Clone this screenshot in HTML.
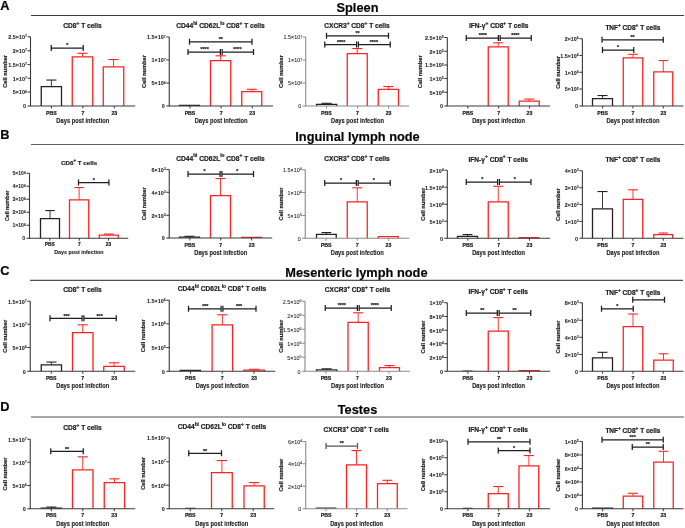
<!DOCTYPE html>
<html><head><meta charset="utf-8"><style>
html,body{margin:0;padding:0;background:#fff;}
body{width:685px;height:528px;overflow:hidden;}
svg{display:block;will-change:transform;font-family:"Liberation Sans",sans-serif;}
text{stroke:#222;stroke-width:0.2px;} text.t{stroke-width:0.06px;} text.d{stroke-width:0.1px;}
</style></head><body>
<svg width="685" height="528" viewBox="0 0 685 528">
<rect width="685" height="528" fill="#fff"/>
<g>
<text x="0.3" y="9.5" font-size="12.8" font-weight="bold" fill="#000">A</text>
<text x="357.5" y="12.3" font-size="12.8" font-weight="bold" fill="#000" text-anchor="middle">Spleen</text>
<line x1="31" y1="15.5" x2="684" y2="15.5" stroke="#3c3c3c" stroke-width="1.0"/>
<text x="0.3" y="138.6" font-size="12.8" font-weight="bold" fill="#000">B</text>
<text x="357.5" y="141.0" font-size="12.8" font-weight="bold" fill="#000" text-anchor="middle">Inguinal lymph node</text>
<line x1="31" y1="144.5" x2="684" y2="144.5" stroke="#5e5e5e" stroke-width="1.15"/>
<text x="0.3" y="274.5" font-size="12.8" font-weight="bold" fill="#000">C</text>
<text x="356.4" y="277.0" font-size="12.8" font-weight="bold" fill="#000" text-anchor="middle">Mesenteric lymph node</text>
<line x1="30" y1="280.4" x2="683" y2="280.4" stroke="#505050" stroke-width="1.1"/>
<text x="0.3" y="411.1" font-size="12.8" font-weight="bold" fill="#000">D</text>
<text x="357.5" y="414.0" font-size="12.8" font-weight="bold" fill="#000" text-anchor="middle">Testes</text>
<line x1="31" y1="417.0" x2="684" y2="417.0" stroke="#a8a8a8" stroke-width="1.9"/>
<g><line x1="51.375" y1="86.55" x2="51.375" y2="80.05" stroke="#222" stroke-width="0.9"/><line x1="46.3125" y1="80.05" x2="56.4375" y2="80.05" stroke="#222" stroke-width="1.1"/><path d="M41.25 106V86.55H61.5V106" fill="none" stroke="#222" stroke-width="1.3"/><line x1="82.5" y1="56.8" x2="82.5" y2="53.3" stroke="#f22" stroke-width="0.9"/><line x1="77.375" y1="53.3" x2="87.625" y2="53.3" stroke="#f22" stroke-width="1.1"/><path d="M72.25 106V56.8H92.75V106" fill="none" stroke="#f22" stroke-width="1.3"/><line x1="113.5" y1="66.8" x2="113.5" y2="59.55" stroke="#f22" stroke-width="0.9"/><line x1="108.375" y1="59.55" x2="118.625" y2="59.55" stroke="#f22" stroke-width="1.1"/><path d="M103.25 106V66.8H123.75V106" fill="none" stroke="#f22" stroke-width="1.3"/><path d="M30.5 36.75V106H135.2" fill="none" stroke="#3a3a3a" stroke-width="1.1"/><line x1="27.5" y1="36.75" x2="30.5" y2="36.75" stroke="#3a3a3a" stroke-width="1.05"/><text class="t" x="26.9" y="39.15" font-size="5.40" font-weight="bold" text-anchor="end" fill="#1a1a1a">2.5×10<tspan dy="-1.9" font-size="3.6">7</tspan></text><line x1="27.5" y1="50.75" x2="30.5" y2="50.75" stroke="#3a3a3a" stroke-width="1.05"/><text class="t" x="26.9" y="53.15" font-size="5.40" font-weight="bold" text-anchor="end" fill="#1a1a1a">2×10<tspan dy="-1.9" font-size="3.6">7</tspan></text><line x1="27.5" y1="64.5" x2="30.5" y2="64.5" stroke="#3a3a3a" stroke-width="1.05"/><text class="t" x="26.9" y="66.9" font-size="5.40" font-weight="bold" text-anchor="end" fill="#1a1a1a">1.5×10<tspan dy="-1.9" font-size="3.6">7</tspan></text><line x1="27.5" y1="78.25" x2="30.5" y2="78.25" stroke="#3a3a3a" stroke-width="1.05"/><text class="t" x="26.9" y="80.65" font-size="5.40" font-weight="bold" text-anchor="end" fill="#1a1a1a">1×10<tspan dy="-1.9" font-size="3.6">7</tspan></text><line x1="27.5" y1="92" x2="30.5" y2="92" stroke="#3a3a3a" stroke-width="1.05"/><text class="t" x="26.9" y="94.4" font-size="5.40" font-weight="bold" text-anchor="end" fill="#1a1a1a">5×10<tspan dy="-1.9" font-size="3.6">6</tspan></text><line x1="27.5" y1="106" x2="30.5" y2="106" stroke="#3a3a3a" stroke-width="1.05"/><text class="t" x="26.1" y="108.4" font-size="5.40" font-weight="bold" text-anchor="end" fill="#1a1a1a">0</text><line x1="51.44" y1="106" x2="51.44" y2="108.5" stroke="#3a3a3a" stroke-width="1"/><text transform="translate(51.44 114.6) scale(1 1.12)" font-size="5.20" font-weight="bold" text-anchor="middle" fill="#1a1a1a">PBS</text><line x1="82.85" y1="106" x2="82.85" y2="108.5" stroke="#3a3a3a" stroke-width="1"/><text transform="translate(82.85 114.6) scale(1 1.12)" font-size="5.20" font-weight="bold" text-anchor="middle" fill="#1a1a1a">7</text><line x1="114.25999999999999" y1="106" x2="114.25999999999999" y2="108.5" stroke="#3a3a3a" stroke-width="1"/><text transform="translate(114.25999999999999 114.6) scale(1 1.12)" font-size="5.20" font-weight="bold" text-anchor="middle" fill="#1a1a1a">23</text><text class="d" transform="translate(82.85 123.0) scale(1 1.12)" font-size="5.75" font-weight="bold" text-anchor="middle" fill="#1a1a1a">Days post infection</text><text transform="translate(7.200000000000001 71.375) rotate(-90)" x="0" y="0" font-size="5.70" font-weight="bold" text-anchor="middle" fill="#1a1a1a">Cell number</text><path d="M51.25 44.9V51.1M51.25 48H83.25M83.25 44.9V51.1" fill="none" stroke="#1e1e1e" stroke-width="1.25"/><text x="67.25" y="47.3" font-size="5.3" font-weight="bold" text-anchor="middle" fill="#1a1a1a">*</text><text x="82.5" y="28.2" font-size="6.6" font-weight="bold" text-anchor="middle" fill="#1a1a1a">CD8<tspan dy="-3.20" font-size="4.80">+</tspan><tspan dy="3.20"> </tspan>T cells</text></g>
<g><path d="M179.5 106V105.4H199.5V106" fill="none" stroke="#222" stroke-width="1.3"/><line x1="220.625" y1="60.55" x2="220.625" y2="55.8" stroke="#f22" stroke-width="0.9"/><line x1="215.5625" y1="55.8" x2="225.6875" y2="55.8" stroke="#f22" stroke-width="1.1"/><path d="M210.5 106V60.55H230.75V106" fill="none" stroke="#f22" stroke-width="1.3"/><line x1="251.75" y1="91.55" x2="251.75" y2="89.3" stroke="#f22" stroke-width="0.9"/><line x1="246.75" y1="89.3" x2="256.75" y2="89.3" stroke="#f22" stroke-width="1.1"/><path d="M241.75 106V91.55H261.75V106" fill="none" stroke="#f22" stroke-width="1.3"/><path d="M169.25 37V106H273" fill="none" stroke="#3a3a3a" stroke-width="1.1"/><line x1="166.25" y1="37" x2="169.25" y2="37" stroke="#3a3a3a" stroke-width="1.05"/><text class="t" x="165.65" y="39.4" font-size="5.40" font-weight="bold" text-anchor="end" fill="#1a1a1a">1.5×10<tspan dy="-1.9" font-size="3.6">7</tspan></text><line x1="166.25" y1="60" x2="169.25" y2="60" stroke="#3a3a3a" stroke-width="1.05"/><text class="t" x="165.65" y="62.4" font-size="5.40" font-weight="bold" text-anchor="end" fill="#1a1a1a">1×10<tspan dy="-1.9" font-size="3.6">7</tspan></text><line x1="166.25" y1="83" x2="169.25" y2="83" stroke="#3a3a3a" stroke-width="1.05"/><text class="t" x="165.65" y="85.4" font-size="5.40" font-weight="bold" text-anchor="end" fill="#1a1a1a">5×10<tspan dy="-1.9" font-size="3.6">6</tspan></text><line x1="166.25" y1="106" x2="169.25" y2="106" stroke="#3a3a3a" stroke-width="1.05"/><text class="t" x="164.85" y="108.4" font-size="5.40" font-weight="bold" text-anchor="end" fill="#1a1a1a">0</text><line x1="190.0" y1="106" x2="190.0" y2="108.5" stroke="#3a3a3a" stroke-width="1"/><text transform="translate(190.0 114.6) scale(1 1.12)" font-size="5.20" font-weight="bold" text-anchor="middle" fill="#1a1a1a">PBS</text><line x1="221.125" y1="106" x2="221.125" y2="108.5" stroke="#3a3a3a" stroke-width="1"/><text transform="translate(221.125 114.6) scale(1 1.12)" font-size="5.20" font-weight="bold" text-anchor="middle" fill="#1a1a1a">7</text><line x1="252.25" y1="106" x2="252.25" y2="108.5" stroke="#3a3a3a" stroke-width="1"/><text transform="translate(252.25 114.6) scale(1 1.12)" font-size="5.20" font-weight="bold" text-anchor="middle" fill="#1a1a1a">23</text><text class="d" transform="translate(221.125 123.0) scale(1 1.12)" font-size="5.75" font-weight="bold" text-anchor="middle" fill="#1a1a1a">Days post infection</text><text transform="translate(145.9 71.5) rotate(-90)" x="0" y="0" font-size="5.70" font-weight="bold" text-anchor="middle" fill="#1a1a1a">Cell number</text><path d="M189.5 38.65V44.85M189.5 41.75H252M252 38.65V44.85" fill="none" stroke="#1e1e1e" stroke-width="1.25"/><text x="220.75" y="41.05" font-size="5.3" font-weight="bold" text-anchor="middle" fill="#1a1a1a">**</text><path d="M188 48.9V55.1M188 52H220.35M220.35 48.9V55.1" fill="none" stroke="#1e1e1e" stroke-width="1.25"/><text x="204.625" y="51.3" font-size="5.3" font-weight="bold" text-anchor="middle" fill="#1a1a1a">****</text><path d="M222.15 48.9V55.1M222.15 52H253.5M253.5 48.9V55.1" fill="none" stroke="#1e1e1e" stroke-width="1.25"/><text x="237.375" y="51.3" font-size="5.3" font-weight="bold" text-anchor="middle" fill="#1a1a1a">****</text><text x="220.5" y="28.2" font-size="6.6" font-weight="bold" text-anchor="middle" fill="#1a1a1a">CD44<tspan dy="-3.20" font-size="4.80">hi</tspan><tspan dy="3.20"> </tspan>CD62L<tspan dy="-3.20" font-size="4.80">lo</tspan><tspan dy="3.20"> </tspan>CD8<tspan dy="-3.20" font-size="4.80">+</tspan><tspan dy="3.20"> </tspan>T cells</text></g>
<g><line x1="326.625" y1="104.3" x2="326.625" y2="103.3" stroke="#222" stroke-width="0.9"/><line x1="321.5625" y1="103.3" x2="331.6875" y2="103.3" stroke="#222" stroke-width="1.1"/><path d="M316.5 106V104.3H336.75V106" fill="none" stroke="#222" stroke-width="1.3"/><line x1="357.25" y1="53.55" x2="357.25" y2="48.55" stroke="#f22" stroke-width="0.9"/><line x1="352.25" y1="48.55" x2="362.25" y2="48.55" stroke="#f22" stroke-width="1.1"/><path d="M347.25 106V53.55H367.25V106" fill="none" stroke="#f22" stroke-width="1.3"/><line x1="388.375" y1="89.3" x2="388.375" y2="86.55" stroke="#f22" stroke-width="0.9"/><line x1="383.3125" y1="86.55" x2="393.4375" y2="86.55" stroke="#f22" stroke-width="1.1"/><path d="M378.25 106V89.3H398.5V106" fill="none" stroke="#f22" stroke-width="1.3"/><path d="M305.75 37V106H409.2" fill="none" stroke="#8a8a8a" stroke-width="1.1"/><line x1="302.75" y1="37" x2="305.75" y2="37" stroke="#8a8a8a" stroke-width="1.05"/><text class="t" x="302.15" y="39.4" font-size="5.40" font-weight="normal" text-anchor="end" fill="#1a1a1a">1.5×10<tspan dy="-1.9" font-size="3.6">7</tspan></text><line x1="302.75" y1="60" x2="305.75" y2="60" stroke="#8a8a8a" stroke-width="1.05"/><text class="t" x="302.15" y="62.4" font-size="5.40" font-weight="normal" text-anchor="end" fill="#1a1a1a">1×10<tspan dy="-1.9" font-size="3.6">7</tspan></text><line x1="302.75" y1="83" x2="305.75" y2="83" stroke="#8a8a8a" stroke-width="1.05"/><text class="t" x="302.15" y="85.4" font-size="5.40" font-weight="normal" text-anchor="end" fill="#1a1a1a">5×10<tspan dy="-1.9" font-size="3.6">6</tspan></text><line x1="302.75" y1="106" x2="305.75" y2="106" stroke="#8a8a8a" stroke-width="1.05"/><text class="t" x="301.35" y="108.4" font-size="5.40" font-weight="normal" text-anchor="end" fill="#1a1a1a">0</text><line x1="326.44" y1="106" x2="326.44" y2="108.5" stroke="#8a8a8a" stroke-width="1"/><text transform="translate(326.44 114.6) scale(1 1.12)" font-size="5.20" font-weight="bold" text-anchor="middle" fill="#1a1a1a">PBS</text><line x1="357.475" y1="106" x2="357.475" y2="108.5" stroke="#8a8a8a" stroke-width="1"/><text transform="translate(357.475 114.6) scale(1 1.12)" font-size="5.20" font-weight="bold" text-anchor="middle" fill="#1a1a1a">7</text><line x1="388.51" y1="106" x2="388.51" y2="108.5" stroke="#8a8a8a" stroke-width="1"/><text transform="translate(388.51 114.6) scale(1 1.12)" font-size="5.20" font-weight="bold" text-anchor="middle" fill="#1a1a1a">23</text><text class="d" transform="translate(357.475 123.0) scale(1 1.12)" font-size="5.75" font-weight="bold" text-anchor="middle" fill="#1a1a1a">Days post infection</text><text transform="translate(282.9 71.5) rotate(-90)" x="0" y="0" font-size="5.70" font-weight="bold" text-anchor="middle" fill="#1a1a1a">Cell number</text><path d="M326.5 32.65V38.85M326.5 35.75H388.5M388.5 32.65V38.85" fill="none" stroke="#1e1e1e" stroke-width="1.25"/><text x="357.5" y="35.05" font-size="5.3" font-weight="bold" text-anchor="middle" fill="#1a1a1a">**</text><path d="M324.75 41.4V47.6M324.75 44.5H356.6M356.6 41.4V47.6" fill="none" stroke="#1e1e1e" stroke-width="1.25"/><text x="341.125" y="43.8" font-size="5.3" font-weight="bold" text-anchor="middle" fill="#1a1a1a">****</text><path d="M358.4 41.4V47.6M358.4 44.5H390.25M390.25 41.4V47.6" fill="none" stroke="#1e1e1e" stroke-width="1.25"/><text x="373.875" y="43.8" font-size="5.3" font-weight="bold" text-anchor="middle" fill="#1a1a1a">****</text><text x="357" y="28.2" font-size="6.6" font-weight="bold" text-anchor="middle" fill="#1a1a1a">CXCR3<tspan dy="-3.20" font-size="4.80">+</tspan><tspan dy="3.20"> </tspan>CD8<tspan dy="-3.20" font-size="4.80">+</tspan><tspan dy="3.20"> </tspan>T cells</text></g>
<g><line x1="498.25" y1="46.8" x2="498.25" y2="42.8" stroke="#f22" stroke-width="0.9"/><line x1="493.25" y1="42.8" x2="503.25" y2="42.8" stroke="#f22" stroke-width="1.1"/><path d="M488.25 106V46.8H508.25V106" fill="none" stroke="#f22" stroke-width="1.3"/><line x1="529.25" y1="101.05" x2="529.25" y2="99.05" stroke="#f22" stroke-width="0.9"/><line x1="524.25" y1="99.05" x2="534.25" y2="99.05" stroke="#f22" stroke-width="1.1"/><path d="M519.25 106V101.05H539.25V106" fill="none" stroke="#f22" stroke-width="1.3"/><path d="M447.3 37.5V106H550" fill="none" stroke="#3a3a3a" stroke-width="1.1"/><line x1="444.3" y1="37.5" x2="447.3" y2="37.5" stroke="#3a3a3a" stroke-width="1.05"/><text class="t" x="443.7" y="39.9" font-size="5.40" font-weight="bold" text-anchor="end" fill="#1a1a1a">2.5×10<tspan dy="-1.9" font-size="3.6">5</tspan></text><line x1="444.3" y1="51.25" x2="447.3" y2="51.25" stroke="#3a3a3a" stroke-width="1.05"/><text class="t" x="443.7" y="53.65" font-size="5.40" font-weight="bold" text-anchor="end" fill="#1a1a1a">2×10<tspan dy="-1.9" font-size="3.6">5</tspan></text><line x1="444.3" y1="65" x2="447.3" y2="65" stroke="#3a3a3a" stroke-width="1.05"/><text class="t" x="443.7" y="67.4" font-size="5.40" font-weight="bold" text-anchor="end" fill="#1a1a1a">1.5×10<tspan dy="-1.9" font-size="3.6">5</tspan></text><line x1="444.3" y1="78.5" x2="447.3" y2="78.5" stroke="#3a3a3a" stroke-width="1.05"/><text class="t" x="443.7" y="80.9" font-size="5.40" font-weight="bold" text-anchor="end" fill="#1a1a1a">1×10<tspan dy="-1.9" font-size="3.6">5</tspan></text><line x1="444.3" y1="92.25" x2="447.3" y2="92.25" stroke="#3a3a3a" stroke-width="1.05"/><text class="t" x="443.7" y="94.65" font-size="5.40" font-weight="bold" text-anchor="end" fill="#1a1a1a">5×10<tspan dy="-1.9" font-size="3.6">4</tspan></text><line x1="444.3" y1="106" x2="447.3" y2="106" stroke="#3a3a3a" stroke-width="1.05"/><text class="t" x="442.90000000000003" y="108.4" font-size="5.40" font-weight="bold" text-anchor="end" fill="#1a1a1a">0</text><line x1="467.84000000000003" y1="106" x2="467.84000000000003" y2="108.5" stroke="#3a3a3a" stroke-width="1"/><text transform="translate(467.84000000000003 114.6) scale(1 1.12)" font-size="5.20" font-weight="bold" text-anchor="middle" fill="#1a1a1a">PBS</text><line x1="498.65" y1="106" x2="498.65" y2="108.5" stroke="#3a3a3a" stroke-width="1"/><text transform="translate(498.65 114.6) scale(1 1.12)" font-size="5.20" font-weight="bold" text-anchor="middle" fill="#1a1a1a">7</text><line x1="529.46" y1="106" x2="529.46" y2="108.5" stroke="#3a3a3a" stroke-width="1"/><text transform="translate(529.46 114.6) scale(1 1.12)" font-size="5.20" font-weight="bold" text-anchor="middle" fill="#1a1a1a">23</text><text class="d" transform="translate(498.65 123.0) scale(1 1.12)" font-size="5.75" font-weight="bold" text-anchor="middle" fill="#1a1a1a">Days post infection</text><text transform="translate(422.15 71.75) rotate(-90)" x="0" y="0" font-size="5.70" font-weight="bold" text-anchor="middle" fill="#1a1a1a">Cell number</text><path d="M466.25 34.9V41.1M466.25 38H498.35M498.35 34.9V41.1" fill="none" stroke="#1e1e1e" stroke-width="1.25"/><text x="482.75" y="37.3" font-size="5.3" font-weight="bold" text-anchor="middle" fill="#1a1a1a">****</text><path d="M500.15 34.9V41.1M500.15 38H531.25M531.25 34.9V41.1" fill="none" stroke="#1e1e1e" stroke-width="1.25"/><text x="515.25" y="37.3" font-size="5.3" font-weight="bold" text-anchor="middle" fill="#1a1a1a">****</text><text x="498.75" y="28.2" font-size="6.6" font-weight="bold" text-anchor="middle" fill="#1a1a1a">IFN-γ<tspan dy="-3.20" font-size="4.80">+</tspan><tspan dy="3.20"> </tspan>CD8<tspan dy="-3.20" font-size="4.80">+</tspan><tspan dy="3.20"> </tspan>T cells</text></g>
<g><line x1="602.5" y1="98.7" x2="602.5" y2="95.55" stroke="#222" stroke-width="0.9"/><line x1="597.5" y1="95.55" x2="607.5" y2="95.55" stroke="#222" stroke-width="1.1"/><path d="M592.5 106V98.7H612.5V106" fill="none" stroke="#222" stroke-width="1.3"/><line x1="633.0" y1="57.8" x2="633.0" y2="54.3" stroke="#f22" stroke-width="0.9"/><line x1="628.125" y1="54.3" x2="637.875" y2="54.3" stroke="#f22" stroke-width="1.1"/><path d="M623.25 106V57.8H642.75V106" fill="none" stroke="#f22" stroke-width="1.3"/><line x1="663.25" y1="71.8" x2="663.25" y2="60.55" stroke="#f22" stroke-width="0.9"/><line x1="658.5" y1="60.55" x2="668.0" y2="60.55" stroke="#f22" stroke-width="1.1"/><path d="M653.75 106V71.8H672.75V106" fill="none" stroke="#f22" stroke-width="1.3"/><path d="M582.4 38.75V106H683.5" fill="none" stroke="#3a3a3a" stroke-width="1.1"/><line x1="579.4" y1="38.75" x2="582.4" y2="38.75" stroke="#3a3a3a" stroke-width="1.05"/><text class="t" x="578.8" y="41.15" font-size="5.40" font-weight="bold" text-anchor="end" fill="#1a1a1a">2×10<tspan dy="-1.9" font-size="3.6">6</tspan></text><line x1="579.4" y1="55.5" x2="582.4" y2="55.5" stroke="#3a3a3a" stroke-width="1.05"/><text class="t" x="578.8" y="57.9" font-size="5.40" font-weight="bold" text-anchor="end" fill="#1a1a1a">1.5×10<tspan dy="-1.9" font-size="3.6">6</tspan></text><line x1="579.4" y1="72.25" x2="582.4" y2="72.25" stroke="#3a3a3a" stroke-width="1.05"/><text class="t" x="578.8" y="74.65" font-size="5.40" font-weight="bold" text-anchor="end" fill="#1a1a1a">1×10<tspan dy="-1.9" font-size="3.6">6</tspan></text><line x1="579.4" y1="89" x2="582.4" y2="89" stroke="#3a3a3a" stroke-width="1.05"/><text class="t" x="578.8" y="91.4" font-size="5.40" font-weight="bold" text-anchor="end" fill="#1a1a1a">5×10<tspan dy="-1.9" font-size="3.6">5</tspan></text><line x1="579.4" y1="106" x2="582.4" y2="106" stroke="#3a3a3a" stroke-width="1.05"/><text class="t" x="578.0" y="108.4" font-size="5.40" font-weight="bold" text-anchor="end" fill="#1a1a1a">0</text><line x1="602.62" y1="106" x2="602.62" y2="108.5" stroke="#3a3a3a" stroke-width="1"/><text transform="translate(602.62 114.6) scale(1 1.12)" font-size="5.20" font-weight="bold" text-anchor="middle" fill="#1a1a1a">PBS</text><line x1="632.95" y1="106" x2="632.95" y2="108.5" stroke="#3a3a3a" stroke-width="1"/><text transform="translate(632.95 114.6) scale(1 1.12)" font-size="5.20" font-weight="bold" text-anchor="middle" fill="#1a1a1a">7</text><line x1="663.28" y1="106" x2="663.28" y2="108.5" stroke="#3a3a3a" stroke-width="1"/><text transform="translate(663.28 114.6) scale(1 1.12)" font-size="5.20" font-weight="bold" text-anchor="middle" fill="#1a1a1a">23</text><text class="d" transform="translate(632.95 123.0) scale(1 1.12)" font-size="5.75" font-weight="bold" text-anchor="middle" fill="#1a1a1a">Days post infection</text><text transform="translate(560.15 72.375) rotate(-90)" x="0" y="0" font-size="5.70" font-weight="bold" text-anchor="middle" fill="#1a1a1a">Cell number</text><path d="M602 36.65V42.85M602 39.75H663.25M663.25 36.65V42.85" fill="none" stroke="#1e1e1e" stroke-width="1.25"/><text x="632.625" y="39.05" font-size="5.3" font-weight="bold" text-anchor="middle" fill="#1a1a1a">**</text><path d="M602.5 46.9V53.1M602.5 50H633.75M633.75 46.9V53.1" fill="none" stroke="#1e1e1e" stroke-width="1.25"/><text x="618.125" y="49.3" font-size="5.3" font-weight="bold" text-anchor="middle" fill="#1a1a1a">*</text><text x="632.9" y="29.8" font-size="6.5" font-weight="bold" text-anchor="middle" fill="#1a1a1a">TNF<tspan dy="-3.15" font-size="4.73">+</tspan><tspan dy="3.15"> </tspan>CD8<tspan dy="-3.15" font-size="4.73">+</tspan><tspan dy="3.15"> </tspan>T cells</text></g>
<g><line x1="50.0" y1="218.55" x2="50.0" y2="210.55" stroke="#222" stroke-width="0.9"/><line x1="45.25" y1="210.55" x2="54.75" y2="210.55" stroke="#222" stroke-width="1.1"/><path d="M40.5 238.25V218.55H59.5V238.25" fill="none" stroke="#222" stroke-width="1.3"/><line x1="79.125" y1="199.8" x2="79.125" y2="187.55" stroke="#f22" stroke-width="0.9"/><line x1="74.3125" y1="187.55" x2="83.9375" y2="187.55" stroke="#f22" stroke-width="1.1"/><path d="M69.5 238.25V199.8H88.75V238.25" fill="none" stroke="#f22" stroke-width="1.3"/><line x1="108.75" y1="235.05" x2="108.75" y2="234.05" stroke="#f22" stroke-width="0.9"/><line x1="104.0" y1="234.05" x2="113.5" y2="234.05" stroke="#f22" stroke-width="1.1"/><path d="M99.25 238.25V235.05H118.25V238.25" fill="none" stroke="#f22" stroke-width="1.3"/><path d="M29.5 173.25V238.25H128.25" fill="none" stroke="#3a3a3a" stroke-width="1.1"/><line x1="26.5" y1="173.25" x2="29.5" y2="173.25" stroke="#3a3a3a" stroke-width="1.05"/><text class="t" x="25.9" y="175.482" font-size="5.02" font-weight="bold" text-anchor="end" fill="#1a1a1a">5×10<tspan dy="-1.9" font-size="3.6">6</tspan></text><line x1="26.5" y1="186.25" x2="29.5" y2="186.25" stroke="#3a3a3a" stroke-width="1.05"/><text class="t" x="25.9" y="188.482" font-size="5.02" font-weight="bold" text-anchor="end" fill="#1a1a1a">4×10<tspan dy="-1.9" font-size="3.6">6</tspan></text><line x1="26.5" y1="199.25" x2="29.5" y2="199.25" stroke="#3a3a3a" stroke-width="1.05"/><text class="t" x="25.9" y="201.482" font-size="5.02" font-weight="bold" text-anchor="end" fill="#1a1a1a">3×10<tspan dy="-1.9" font-size="3.6">6</tspan></text><line x1="26.5" y1="212.25" x2="29.5" y2="212.25" stroke="#3a3a3a" stroke-width="1.05"/><text class="t" x="25.9" y="214.482" font-size="5.02" font-weight="bold" text-anchor="end" fill="#1a1a1a">2×10<tspan dy="-1.9" font-size="3.6">6</tspan></text><line x1="26.5" y1="225.25" x2="29.5" y2="225.25" stroke="#3a3a3a" stroke-width="1.05"/><text class="t" x="25.9" y="227.482" font-size="5.02" font-weight="bold" text-anchor="end" fill="#1a1a1a">1×10<tspan dy="-1.9" font-size="3.6">6</tspan></text><line x1="26.5" y1="238.25" x2="29.5" y2="238.25" stroke="#3a3a3a" stroke-width="1.05"/><text class="t" x="25.1" y="240.482" font-size="5.02" font-weight="bold" text-anchor="end" fill="#1a1a1a">0</text><line x1="49.8" y1="238.25" x2="49.8" y2="240.75" stroke="#3a3a3a" stroke-width="1"/><text transform="translate(49.8 246.25) scale(1 1.12)" font-size="4.84" font-weight="bold" text-anchor="middle" fill="#1a1a1a">PBS</text><line x1="79.4" y1="238.25" x2="79.4" y2="240.75" stroke="#3a3a3a" stroke-width="1"/><text transform="translate(79.4 246.25) scale(1 1.12)" font-size="4.84" font-weight="bold" text-anchor="middle" fill="#1a1a1a">7</text><line x1="108.5" y1="238.25" x2="108.5" y2="240.75" stroke="#3a3a3a" stroke-width="1"/><text transform="translate(108.5 246.25) scale(1 1.12)" font-size="4.84" font-weight="bold" text-anchor="middle" fill="#1a1a1a">23</text><text class="d" transform="translate(78.9 253.65) scale(1 1.12)" font-size="5.35" font-weight="bold" text-anchor="middle" fill="#1a1a1a">Days post infection</text><text transform="translate(8.700000000000001 205.75) rotate(-90)" x="0" y="0" font-size="5.30" font-weight="bold" text-anchor="middle" fill="#1a1a1a">Cell number</text><path d="M78.5 179.4V185.6M78.5 182.5H108.9M108.9 179.4V185.6" fill="none" stroke="#1e1e1e" stroke-width="1.25"/><text x="93.7" y="181.8" font-size="5.3" font-weight="bold" text-anchor="middle" fill="#1a1a1a">*</text><text x="79.1" y="164.6" font-size="6.2" font-weight="bold" text-anchor="middle" fill="#1a1a1a">CD8<tspan dy="-3.01" font-size="4.51">+</tspan><tspan dy="3.01"> </tspan>T cells</text></g>
<g><line x1="189.5" y1="237.05" x2="189.5" y2="236.3" stroke="#222" stroke-width="0.9"/><line x1="184.5" y1="236.3" x2="194.5" y2="236.3" stroke="#222" stroke-width="1.1"/><path d="M179.5 238V237.05H199.5V238" fill="none" stroke="#222" stroke-width="1.3"/><line x1="220.5" y1="195.55" x2="220.5" y2="178.55" stroke="#f22" stroke-width="0.9"/><line x1="215.5" y1="178.55" x2="225.5" y2="178.55" stroke="#f22" stroke-width="1.1"/><path d="M210.5 238V195.55H230.5V238" fill="none" stroke="#f22" stroke-width="1.3"/><path d="M241.75 238V237.3H261.5V238" fill="none" stroke="#f22" stroke-width="1.3"/><path d="M169.25 169.5V238H272.25" fill="none" stroke="#3a3a3a" stroke-width="1.1"/><line x1="166.25" y1="169.5" x2="169.25" y2="169.5" stroke="#3a3a3a" stroke-width="1.05"/><text class="t" x="165.65" y="171.9" font-size="5.40" font-weight="bold" text-anchor="end" fill="#1a1a1a">6×10<tspan dy="-1.9" font-size="3.6">3</tspan></text><line x1="166.25" y1="192.25" x2="169.25" y2="192.25" stroke="#3a3a3a" stroke-width="1.05"/><text class="t" x="165.65" y="194.65" font-size="5.40" font-weight="bold" text-anchor="end" fill="#1a1a1a">4×10<tspan dy="-1.9" font-size="3.6">3</tspan></text><line x1="166.25" y1="215.25" x2="169.25" y2="215.25" stroke="#3a3a3a" stroke-width="1.05"/><text class="t" x="165.65" y="217.65" font-size="5.40" font-weight="bold" text-anchor="end" fill="#1a1a1a">2×10<tspan dy="-1.9" font-size="3.6">3</tspan></text><line x1="166.25" y1="238" x2="169.25" y2="238" stroke="#3a3a3a" stroke-width="1.05"/><text class="t" x="164.85" y="240.4" font-size="5.40" font-weight="bold" text-anchor="end" fill="#1a1a1a">0</text><line x1="189.85" y1="238" x2="189.85" y2="240.5" stroke="#3a3a3a" stroke-width="1"/><text transform="translate(189.85 246.6) scale(1 1.12)" font-size="5.20" font-weight="bold" text-anchor="middle" fill="#1a1a1a">PBS</text><line x1="220.75" y1="238" x2="220.75" y2="240.5" stroke="#3a3a3a" stroke-width="1"/><text transform="translate(220.75 246.6) scale(1 1.12)" font-size="5.20" font-weight="bold" text-anchor="middle" fill="#1a1a1a">7</text><line x1="251.65" y1="238" x2="251.65" y2="240.5" stroke="#3a3a3a" stroke-width="1"/><text transform="translate(251.65 246.6) scale(1 1.12)" font-size="5.20" font-weight="bold" text-anchor="middle" fill="#1a1a1a">23</text><text class="d" transform="translate(220.75 255.0) scale(1 1.12)" font-size="5.75" font-weight="bold" text-anchor="middle" fill="#1a1a1a">Days post infection</text><text transform="translate(145.9 203.75) rotate(-90)" x="0" y="0" font-size="5.70" font-weight="bold" text-anchor="middle" fill="#1a1a1a">Cell number</text><path d="M188 170.9V177.1M188 174H220.1M220.1 170.9V177.1" fill="none" stroke="#1e1e1e" stroke-width="1.25"/><text x="204.5" y="173.3" font-size="5.3" font-weight="bold" text-anchor="middle" fill="#1a1a1a">*</text><path d="M221.9 170.9V177.1M221.9 174H253.5M253.5 170.9V177.1" fill="none" stroke="#1e1e1e" stroke-width="1.25"/><text x="237.25" y="173.3" font-size="5.3" font-weight="bold" text-anchor="middle" fill="#1a1a1a">*</text><text x="220.5" y="160.5" font-size="6.6" font-weight="bold" text-anchor="middle" fill="#1a1a1a">CD44<tspan dy="-3.20" font-size="4.80">hi</tspan><tspan dy="3.20"> </tspan>CD62L<tspan dy="-3.20" font-size="4.80">lo</tspan><tspan dy="3.20"> </tspan>CD8<tspan dy="-3.20" font-size="4.80">+</tspan><tspan dy="3.20"> </tspan>T cells</text></g>
<g><line x1="326.375" y1="234.3" x2="326.375" y2="232.55" stroke="#222" stroke-width="0.9"/><line x1="321.4375" y1="232.55" x2="331.3125" y2="232.55" stroke="#222" stroke-width="1.1"/><path d="M316.5 238.25V234.3H336.25V238.25" fill="none" stroke="#222" stroke-width="1.3"/><line x1="357.25" y1="201.8" x2="357.25" y2="187.8" stroke="#f22" stroke-width="0.9"/><line x1="352.25" y1="187.8" x2="362.25" y2="187.8" stroke="#f22" stroke-width="1.1"/><path d="M347.25 238.25V201.8H367.25V238.25" fill="none" stroke="#f22" stroke-width="1.3"/><path d="M378.25 238.25V236.55H398.25V238.25" fill="none" stroke="#f22" stroke-width="1.3"/><path d="M305.25 169.75V238.25H409.2" fill="none" stroke="#8a8a8a" stroke-width="1.1"/><line x1="302.25" y1="169.75" x2="305.25" y2="169.75" stroke="#8a8a8a" stroke-width="1.05"/><text class="t" x="301.65" y="172.15" font-size="5.40" font-weight="normal" text-anchor="end" fill="#1a1a1a">1.5×10<tspan dy="-1.9" font-size="3.6">4</tspan></text><line x1="302.25" y1="192.5" x2="305.25" y2="192.5" stroke="#8a8a8a" stroke-width="1.05"/><text class="t" x="301.65" y="194.9" font-size="5.40" font-weight="normal" text-anchor="end" fill="#1a1a1a">1×10<tspan dy="-1.9" font-size="3.6">4</tspan></text><line x1="302.25" y1="215.5" x2="305.25" y2="215.5" stroke="#8a8a8a" stroke-width="1.05"/><text class="t" x="301.65" y="217.9" font-size="5.40" font-weight="normal" text-anchor="end" fill="#1a1a1a">5×10<tspan dy="-1.9" font-size="3.6">3</tspan></text><line x1="302.25" y1="238.25" x2="305.25" y2="238.25" stroke="#8a8a8a" stroke-width="1.05"/><text class="t" x="300.85" y="240.65" font-size="5.40" font-weight="normal" text-anchor="end" fill="#1a1a1a">0</text><line x1="326.04" y1="238.25" x2="326.04" y2="240.75" stroke="#8a8a8a" stroke-width="1"/><text transform="translate(326.04 246.85) scale(1 1.12)" font-size="5.20" font-weight="bold" text-anchor="middle" fill="#1a1a1a">PBS</text><line x1="357.225" y1="238.25" x2="357.225" y2="240.75" stroke="#8a8a8a" stroke-width="1"/><text transform="translate(357.225 246.85) scale(1 1.12)" font-size="5.20" font-weight="bold" text-anchor="middle" fill="#1a1a1a">7</text><line x1="388.40999999999997" y1="238.25" x2="388.40999999999997" y2="240.75" stroke="#8a8a8a" stroke-width="1"/><text transform="translate(388.40999999999997 246.85) scale(1 1.12)" font-size="5.20" font-weight="bold" text-anchor="middle" fill="#1a1a1a">23</text><text class="d" transform="translate(357.225 255.25) scale(1 1.12)" font-size="5.75" font-weight="bold" text-anchor="middle" fill="#1a1a1a">Days post infection</text><text transform="translate(283.4 204.0) rotate(-90)" x="0" y="0" font-size="5.70" font-weight="bold" text-anchor="middle" fill="#1a1a1a">Cell number</text><path d="M324.75 179.9V186.1M324.75 183H356.35M356.35 179.9V186.1" fill="none" stroke="#1e1e1e" stroke-width="1.25"/><text x="341.0" y="182.3" font-size="5.3" font-weight="bold" text-anchor="middle" fill="#1a1a1a">*</text><path d="M358.15 179.9V186.1M358.15 183H390.25M390.25 179.9V186.1" fill="none" stroke="#1e1e1e" stroke-width="1.25"/><text x="373.75" y="182.3" font-size="5.3" font-weight="bold" text-anchor="middle" fill="#1a1a1a">*</text><text x="357" y="160.7" font-size="6.6" font-weight="bold" text-anchor="middle" fill="#1a1a1a">CXCR3<tspan dy="-3.20" font-size="4.80">+</tspan><tspan dy="3.20"> </tspan>CD8<tspan dy="-3.20" font-size="4.80">+</tspan><tspan dy="3.20"> </tspan>T cells</text></g>
<g><line x1="467.5" y1="236.3" x2="467.5" y2="234.55" stroke="#222" stroke-width="0.9"/><line x1="462.5" y1="234.55" x2="472.5" y2="234.55" stroke="#222" stroke-width="1.1"/><path d="M457.5 238.25V236.3H477.5V238.25" fill="none" stroke="#222" stroke-width="1.3"/><line x1="498.25" y1="201.8" x2="498.25" y2="186.3" stroke="#f22" stroke-width="0.9"/><line x1="493.25" y1="186.3" x2="503.25" y2="186.3" stroke="#f22" stroke-width="1.1"/><path d="M488.25 238.25V201.8H508.25V238.25" fill="none" stroke="#f22" stroke-width="1.3"/><path d="M519.25 238.25V237.65H538.75V238.25" fill="none" stroke="#f22" stroke-width="1.3"/><path d="M447.3 170.25V238.25H550" fill="none" stroke="#3a3a3a" stroke-width="1.1"/><line x1="444.3" y1="170.25" x2="447.3" y2="170.25" stroke="#3a3a3a" stroke-width="1.05"/><text class="t" x="443.7" y="172.65" font-size="5.40" font-weight="bold" text-anchor="end" fill="#1a1a1a">2×10<tspan dy="-1.9" font-size="3.6">4</tspan></text><line x1="444.3" y1="187.25" x2="447.3" y2="187.25" stroke="#3a3a3a" stroke-width="1.05"/><text class="t" x="443.7" y="189.65" font-size="5.40" font-weight="bold" text-anchor="end" fill="#1a1a1a">1.5×10<tspan dy="-1.9" font-size="3.6">4</tspan></text><line x1="444.3" y1="204.25" x2="447.3" y2="204.25" stroke="#3a3a3a" stroke-width="1.05"/><text class="t" x="443.7" y="206.65" font-size="5.40" font-weight="bold" text-anchor="end" fill="#1a1a1a">1×10<tspan dy="-1.9" font-size="3.6">4</tspan></text><line x1="444.3" y1="221.25" x2="447.3" y2="221.25" stroke="#3a3a3a" stroke-width="1.05"/><text class="t" x="443.7" y="223.65" font-size="5.40" font-weight="bold" text-anchor="end" fill="#1a1a1a">5×10<tspan dy="-1.9" font-size="3.6">3</tspan></text><line x1="444.3" y1="238.25" x2="447.3" y2="238.25" stroke="#3a3a3a" stroke-width="1.05"/><text class="t" x="442.90000000000003" y="240.65" font-size="5.40" font-weight="bold" text-anchor="end" fill="#1a1a1a">0</text><line x1="467.84000000000003" y1="238.25" x2="467.84000000000003" y2="240.75" stroke="#3a3a3a" stroke-width="1"/><text transform="translate(467.84000000000003 246.85) scale(1 1.12)" font-size="5.20" font-weight="bold" text-anchor="middle" fill="#1a1a1a">PBS</text><line x1="498.65" y1="238.25" x2="498.65" y2="240.75" stroke="#3a3a3a" stroke-width="1"/><text transform="translate(498.65 246.85) scale(1 1.12)" font-size="5.20" font-weight="bold" text-anchor="middle" fill="#1a1a1a">7</text><line x1="529.46" y1="238.25" x2="529.46" y2="240.75" stroke="#3a3a3a" stroke-width="1"/><text transform="translate(529.46 246.85) scale(1 1.12)" font-size="5.20" font-weight="bold" text-anchor="middle" fill="#1a1a1a">23</text><text class="d" transform="translate(498.65 255.25) scale(1 1.12)" font-size="5.75" font-weight="bold" text-anchor="middle" fill="#1a1a1a">Days post infection</text><text transform="translate(424.65 204.25) rotate(-90)" x="0" y="0" font-size="5.70" font-weight="bold" text-anchor="middle" fill="#1a1a1a">Cell number</text><path d="M466.25 178.9V185.1M466.25 182H497.6M497.6 178.9V185.1" fill="none" stroke="#1e1e1e" stroke-width="1.25"/><text x="482.375" y="181.3" font-size="5.3" font-weight="bold" text-anchor="middle" fill="#1a1a1a">*</text><path d="M499.4 178.9V185.1M499.4 182H531M531 178.9V185.1" fill="none" stroke="#1e1e1e" stroke-width="1.25"/><text x="514.75" y="181.3" font-size="5.3" font-weight="bold" text-anchor="middle" fill="#1a1a1a">*</text><text x="498.25" y="161.5" font-size="6.6" font-weight="bold" text-anchor="middle" fill="#1a1a1a">IFN-γ<tspan dy="-3.20" font-size="4.80">+</tspan><tspan dy="3.20"> </tspan>CD8<tspan dy="-3.20" font-size="4.80">+</tspan><tspan dy="3.20"> </tspan>T cells</text></g>
<g><line x1="602.5" y1="208.8" x2="602.5" y2="191.55" stroke="#222" stroke-width="0.9"/><line x1="597.5" y1="191.55" x2="607.5" y2="191.55" stroke="#222" stroke-width="1.1"/><path d="M592.5 238.25V208.8H612.5V238.25" fill="none" stroke="#222" stroke-width="1.3"/><line x1="633.0" y1="199.3" x2="633.0" y2="189.8" stroke="#f22" stroke-width="0.9"/><line x1="628.125" y1="189.8" x2="637.875" y2="189.8" stroke="#f22" stroke-width="1.1"/><path d="M623.25 238.25V199.3H642.75V238.25" fill="none" stroke="#f22" stroke-width="1.3"/><line x1="663.25" y1="234.55" x2="663.25" y2="233.05" stroke="#f22" stroke-width="0.9"/><line x1="658.5" y1="233.05" x2="668.0" y2="233.05" stroke="#f22" stroke-width="1.1"/><path d="M653.75 238.25V234.55H672.75V238.25" fill="none" stroke="#f22" stroke-width="1.3"/><path d="M582.4 170.75V238.25H683.5" fill="none" stroke="#3a3a3a" stroke-width="1.1"/><line x1="579.4" y1="170.75" x2="582.4" y2="170.75" stroke="#3a3a3a" stroke-width="1.05"/><text class="t" x="578.8" y="173.15" font-size="5.40" font-weight="bold" text-anchor="end" fill="#1a1a1a">4×10<tspan dy="-1.9" font-size="3.6">3</tspan></text><line x1="579.4" y1="187.75" x2="582.4" y2="187.75" stroke="#3a3a3a" stroke-width="1.05"/><text class="t" x="578.8" y="190.15" font-size="5.40" font-weight="bold" text-anchor="end" fill="#1a1a1a">3×10<tspan dy="-1.9" font-size="3.6">3</tspan></text><line x1="579.4" y1="204.5" x2="582.4" y2="204.5" stroke="#3a3a3a" stroke-width="1.05"/><text class="t" x="578.8" y="206.9" font-size="5.40" font-weight="bold" text-anchor="end" fill="#1a1a1a">2×10<tspan dy="-1.9" font-size="3.6">3</tspan></text><line x1="579.4" y1="221.5" x2="582.4" y2="221.5" stroke="#3a3a3a" stroke-width="1.05"/><text class="t" x="578.8" y="223.9" font-size="5.40" font-weight="bold" text-anchor="end" fill="#1a1a1a">1×10<tspan dy="-1.9" font-size="3.6">3</tspan></text><line x1="579.4" y1="238.25" x2="582.4" y2="238.25" stroke="#3a3a3a" stroke-width="1.05"/><text class="t" x="578.0" y="240.65" font-size="5.40" font-weight="bold" text-anchor="end" fill="#1a1a1a">0</text><line x1="602.62" y1="238.25" x2="602.62" y2="240.75" stroke="#3a3a3a" stroke-width="1"/><text transform="translate(602.62 246.85) scale(1 1.12)" font-size="5.20" font-weight="bold" text-anchor="middle" fill="#1a1a1a">PBS</text><line x1="632.95" y1="238.25" x2="632.95" y2="240.75" stroke="#3a3a3a" stroke-width="1"/><text transform="translate(632.95 246.85) scale(1 1.12)" font-size="5.20" font-weight="bold" text-anchor="middle" fill="#1a1a1a">7</text><line x1="663.28" y1="238.25" x2="663.28" y2="240.75" stroke="#3a3a3a" stroke-width="1"/><text transform="translate(663.28 246.85) scale(1 1.12)" font-size="5.20" font-weight="bold" text-anchor="middle" fill="#1a1a1a">23</text><text class="d" transform="translate(632.95 255.25) scale(1 1.12)" font-size="5.75" font-weight="bold" text-anchor="middle" fill="#1a1a1a">Days post infection</text><text transform="translate(560.15 204.5) rotate(-90)" x="0" y="0" font-size="5.70" font-weight="bold" text-anchor="middle" fill="#1a1a1a">Cell number</text><text x="632.9" y="162.2" font-size="6.5" font-weight="bold" text-anchor="middle" fill="#1a1a1a">TNF<tspan dy="-3.15" font-size="4.73">+</tspan><tspan dy="3.15"> </tspan>CD8<tspan dy="-3.15" font-size="4.73">+</tspan><tspan dy="3.15"> </tspan>T cells</text></g>
<g><line x1="51.375" y1="364.8" x2="51.375" y2="362.05" stroke="#222" stroke-width="0.9"/><line x1="46.3125" y1="362.05" x2="56.4375" y2="362.05" stroke="#222" stroke-width="1.1"/><path d="M41.25 371.25V364.8H61.5V371.25" fill="none" stroke="#222" stroke-width="1.3"/><line x1="82.75" y1="332.55" x2="82.75" y2="324.8" stroke="#f22" stroke-width="0.9"/><line x1="77.625" y1="324.8" x2="87.875" y2="324.8" stroke="#f22" stroke-width="1.1"/><path d="M72.5 371.25V332.55H93V371.25" fill="none" stroke="#f22" stroke-width="1.3"/><line x1="114.0" y1="366.3" x2="114.0" y2="362.8" stroke="#f22" stroke-width="0.9"/><line x1="108.875" y1="362.8" x2="119.125" y2="362.8" stroke="#f22" stroke-width="1.1"/><path d="M103.75 371.25V366.3H124.25V371.25" fill="none" stroke="#f22" stroke-width="1.3"/><path d="M30.25 301.25V371.25H135.25" fill="none" stroke="#3a3a3a" stroke-width="1.1"/><line x1="27.25" y1="301.25" x2="30.25" y2="301.25" stroke="#3a3a3a" stroke-width="1.05"/><text class="t" x="26.65" y="303.65" font-size="5.40" font-weight="bold" text-anchor="end" fill="#1a1a1a">1.5×10<tspan dy="-1.9" font-size="3.6">7</tspan></text><line x1="27.25" y1="324.25" x2="30.25" y2="324.25" stroke="#3a3a3a" stroke-width="1.05"/><text class="t" x="26.65" y="326.65" font-size="5.40" font-weight="bold" text-anchor="end" fill="#1a1a1a">1×10<tspan dy="-1.9" font-size="3.6">7</tspan></text><line x1="27.25" y1="347.5" x2="30.25" y2="347.5" stroke="#3a3a3a" stroke-width="1.05"/><text class="t" x="26.65" y="349.9" font-size="5.40" font-weight="bold" text-anchor="end" fill="#1a1a1a">5×10<tspan dy="-1.9" font-size="3.6">6</tspan></text><line x1="27.25" y1="371.25" x2="30.25" y2="371.25" stroke="#3a3a3a" stroke-width="1.05"/><text class="t" x="25.85" y="373.65" font-size="5.40" font-weight="bold" text-anchor="end" fill="#1a1a1a">0</text><line x1="51.25" y1="371.25" x2="51.25" y2="373.75" stroke="#3a3a3a" stroke-width="1"/><text transform="translate(51.25 379.85) scale(1 1.12)" font-size="5.20" font-weight="bold" text-anchor="middle" fill="#1a1a1a">PBS</text><line x1="82.75" y1="371.25" x2="82.75" y2="373.75" stroke="#3a3a3a" stroke-width="1"/><text transform="translate(82.75 379.85) scale(1 1.12)" font-size="5.20" font-weight="bold" text-anchor="middle" fill="#1a1a1a">7</text><line x1="114.25" y1="371.25" x2="114.25" y2="373.75" stroke="#3a3a3a" stroke-width="1"/><text transform="translate(114.25 379.85) scale(1 1.12)" font-size="5.20" font-weight="bold" text-anchor="middle" fill="#1a1a1a">23</text><text class="d" transform="translate(82.75 388.25) scale(1 1.12)" font-size="5.75" font-weight="bold" text-anchor="middle" fill="#1a1a1a">Days post infection</text><text transform="translate(7.15 336.25) rotate(-90)" x="0" y="0" font-size="5.70" font-weight="bold" text-anchor="middle" fill="#1a1a1a">Cell number</text><path d="M50 315.15V321.35M50 318.25H82.1M82.1 315.15V321.35" fill="none" stroke="#1e1e1e" stroke-width="1.25"/><text x="66.5" y="317.55" font-size="5.3" font-weight="bold" text-anchor="middle" fill="#1a1a1a">***</text><path d="M83.9 315.15V321.35M83.9 318.25H116.25M116.25 315.15V321.35" fill="none" stroke="#1e1e1e" stroke-width="1.25"/><text x="99.625" y="317.55" font-size="5.3" font-weight="bold" text-anchor="middle" fill="#1a1a1a">***</text><text x="82.5" y="291.7" font-size="6.6" font-weight="bold" text-anchor="middle" fill="#1a1a1a">CD8<tspan dy="-3.20" font-size="4.80">+</tspan><tspan dy="3.20"> </tspan>T cells</text></g>
<g><path d="M180.25 371.25V370.3H200.5V371.25" fill="none" stroke="#222" stroke-width="1.3"/><line x1="222.35" y1="324.8" x2="222.35" y2="314.8" stroke="#f22" stroke-width="0.9"/><line x1="217.225" y1="314.8" x2="227.475" y2="314.8" stroke="#f22" stroke-width="1.1"/><path d="M212.1 371.25V324.8H232.6V371.25" fill="none" stroke="#f22" stroke-width="1.3"/><line x1="254.3" y1="370.05" x2="254.3" y2="369.3" stroke="#f22" stroke-width="0.9"/><line x1="249.15" y1="369.3" x2="259.45000000000005" y2="369.3" stroke="#f22" stroke-width="1.1"/><path d="M244 371.25V370.05H264.6V371.25" fill="none" stroke="#f22" stroke-width="1.3"/><path d="M169.25 300.25V371.25H275.2" fill="none" stroke="#3a3a3a" stroke-width="1.1"/><line x1="166.25" y1="300.25" x2="169.25" y2="300.25" stroke="#3a3a3a" stroke-width="1.05"/><text class="t" x="165.65" y="302.65" font-size="5.40" font-weight="bold" text-anchor="end" fill="#1a1a1a">1.5×10<tspan dy="-1.9" font-size="3.6">6</tspan></text><line x1="166.25" y1="323.75" x2="169.25" y2="323.75" stroke="#3a3a3a" stroke-width="1.05"/><text class="t" x="165.65" y="326.15" font-size="5.40" font-weight="bold" text-anchor="end" fill="#1a1a1a">1×10<tspan dy="-1.9" font-size="3.6">6</tspan></text><line x1="166.25" y1="347.5" x2="169.25" y2="347.5" stroke="#3a3a3a" stroke-width="1.05"/><text class="t" x="165.65" y="349.9" font-size="5.40" font-weight="bold" text-anchor="end" fill="#1a1a1a">5×10<tspan dy="-1.9" font-size="3.6">5</tspan></text><line x1="166.25" y1="371.25" x2="169.25" y2="371.25" stroke="#3a3a3a" stroke-width="1.05"/><text class="t" x="164.85" y="373.65" font-size="5.40" font-weight="bold" text-anchor="end" fill="#1a1a1a">0</text><line x1="190.44" y1="371.25" x2="190.44" y2="373.75" stroke="#3a3a3a" stroke-width="1"/><text transform="translate(190.44 379.85) scale(1 1.12)" font-size="5.20" font-weight="bold" text-anchor="middle" fill="#1a1a1a">PBS</text><line x1="222.225" y1="371.25" x2="222.225" y2="373.75" stroke="#3a3a3a" stroke-width="1"/><text transform="translate(222.225 379.85) scale(1 1.12)" font-size="5.20" font-weight="bold" text-anchor="middle" fill="#1a1a1a">7</text><line x1="254.01" y1="371.25" x2="254.01" y2="373.75" stroke="#3a3a3a" stroke-width="1"/><text transform="translate(254.01 379.85) scale(1 1.12)" font-size="5.20" font-weight="bold" text-anchor="middle" fill="#1a1a1a">23</text><text class="d" transform="translate(222.225 388.25) scale(1 1.12)" font-size="5.75" font-weight="bold" text-anchor="middle" fill="#1a1a1a">Days post infection</text><text transform="translate(145.15 335.75) rotate(-90)" x="0" y="0" font-size="5.70" font-weight="bold" text-anchor="middle" fill="#1a1a1a">Cell number</text><path d="M188.5 305.65V311.85M188.5 308.75H221.1M221.1 305.65V311.85" fill="none" stroke="#1e1e1e" stroke-width="1.25"/><text x="205.25" y="308.05" font-size="5.3" font-weight="bold" text-anchor="middle" fill="#1a1a1a">***</text><path d="M222.9 305.65V311.85M222.9 308.75H256M256 305.65V311.85" fill="none" stroke="#1e1e1e" stroke-width="1.25"/><text x="239.0" y="308.05" font-size="5.3" font-weight="bold" text-anchor="middle" fill="#1a1a1a">***</text><text x="222" y="291" font-size="6.6" font-weight="bold" text-anchor="middle" fill="#1a1a1a">CD44<tspan dy="-3.20" font-size="4.80">hi</tspan><tspan dy="3.20"> </tspan>CD62L<tspan dy="-3.20" font-size="4.80">lo</tspan><tspan dy="3.20"> </tspan>CD8<tspan dy="-3.20" font-size="4.80">+</tspan><tspan dy="3.20"> </tspan>T cells</text></g>
<g><line x1="326.625" y1="369.8" x2="326.625" y2="368.8" stroke="#222" stroke-width="0.9"/><line x1="321.5625" y1="368.8" x2="331.6875" y2="368.8" stroke="#222" stroke-width="1.1"/><path d="M316.5 371.25V369.8H336.75V371.25" fill="none" stroke="#222" stroke-width="1.3"/><line x1="358.125" y1="322.3" x2="358.125" y2="312.8" stroke="#f22" stroke-width="0.9"/><line x1="353.0625" y1="312.8" x2="363.1875" y2="312.8" stroke="#f22" stroke-width="1.1"/><path d="M348 371.25V322.3H368.25V371.25" fill="none" stroke="#f22" stroke-width="1.3"/><line x1="389.5" y1="367.55" x2="389.5" y2="365.55" stroke="#f22" stroke-width="0.9"/><line x1="384.5" y1="365.55" x2="394.5" y2="365.55" stroke="#f22" stroke-width="1.1"/><path d="M379.5 371.25V367.55H399.5V371.25" fill="none" stroke="#f22" stroke-width="1.3"/><path d="M305 301.25V371.25H410" fill="none" stroke="#8a8a8a" stroke-width="1.1"/><line x1="302" y1="301.25" x2="305" y2="301.25" stroke="#8a8a8a" stroke-width="1.05"/><text class="t" x="301.4" y="303.65" font-size="5.40" font-weight="normal" text-anchor="end" fill="#1a1a1a">2.5×10<tspan dy="-1.9" font-size="3.6">6</tspan></text><line x1="302" y1="315.25" x2="305" y2="315.25" stroke="#8a8a8a" stroke-width="1.05"/><text class="t" x="301.4" y="317.65" font-size="5.40" font-weight="normal" text-anchor="end" fill="#1a1a1a">2×10<tspan dy="-1.9" font-size="3.6">6</tspan></text><line x1="302" y1="329.25" x2="305" y2="329.25" stroke="#8a8a8a" stroke-width="1.05"/><text class="t" x="301.4" y="331.65" font-size="5.40" font-weight="normal" text-anchor="end" fill="#1a1a1a">1.5×10<tspan dy="-1.9" font-size="3.6">6</tspan></text><line x1="302" y1="343.25" x2="305" y2="343.25" stroke="#8a8a8a" stroke-width="1.05"/><text class="t" x="301.4" y="345.65" font-size="5.40" font-weight="normal" text-anchor="end" fill="#1a1a1a">1×10<tspan dy="-1.9" font-size="3.6">6</tspan></text><line x1="302" y1="357.25" x2="305" y2="357.25" stroke="#8a8a8a" stroke-width="1.05"/><text class="t" x="301.4" y="359.65" font-size="5.40" font-weight="normal" text-anchor="end" fill="#1a1a1a">5×10<tspan dy="-1.9" font-size="3.6">5</tspan></text><line x1="302" y1="371.25" x2="305" y2="371.25" stroke="#8a8a8a" stroke-width="1.05"/><text class="t" x="300.6" y="373.65" font-size="5.40" font-weight="normal" text-anchor="end" fill="#1a1a1a">0</text><line x1="326.0" y1="371.25" x2="326.0" y2="373.75" stroke="#8a8a8a" stroke-width="1"/><text transform="translate(326.0 379.85) scale(1 1.12)" font-size="5.20" font-weight="bold" text-anchor="middle" fill="#1a1a1a">PBS</text><line x1="357.5" y1="371.25" x2="357.5" y2="373.75" stroke="#8a8a8a" stroke-width="1"/><text transform="translate(357.5 379.85) scale(1 1.12)" font-size="5.20" font-weight="bold" text-anchor="middle" fill="#1a1a1a">7</text><line x1="389.0" y1="371.25" x2="389.0" y2="373.75" stroke="#8a8a8a" stroke-width="1"/><text transform="translate(389.0 379.85) scale(1 1.12)" font-size="5.20" font-weight="bold" text-anchor="middle" fill="#1a1a1a">23</text><text class="d" transform="translate(357.5 388.25) scale(1 1.12)" font-size="5.75" font-weight="bold" text-anchor="middle" fill="#1a1a1a">Days post infection</text><text transform="translate(282.65 336.25) rotate(-90)" x="0" y="0" font-size="5.70" font-weight="bold" text-anchor="middle" fill="#1a1a1a">Cell number</text><path d="M325.25 304.9V311.1M325.25 308H357.35M357.35 304.9V311.1" fill="none" stroke="#1e1e1e" stroke-width="1.25"/><text x="341.75" y="307.3" font-size="5.3" font-weight="bold" text-anchor="middle" fill="#1a1a1a">****</text><path d="M359.15 304.9V311.1M359.15 308H391.25M391.25 304.9V311.1" fill="none" stroke="#1e1e1e" stroke-width="1.25"/><text x="374.75" y="307.3" font-size="5.3" font-weight="bold" text-anchor="middle" fill="#1a1a1a">****</text><text x="357.5" y="292" font-size="6.6" font-weight="bold" text-anchor="middle" fill="#1a1a1a">CXCR3<tspan dy="-3.20" font-size="4.80">+</tspan><tspan dy="3.20"> </tspan>CD8<tspan dy="-3.20" font-size="4.80">+</tspan><tspan dy="3.20"> </tspan>T cells</text></g>
<g><line x1="498.25" y1="331.05" x2="498.25" y2="317.55" stroke="#f22" stroke-width="0.9"/><line x1="493.25" y1="317.55" x2="503.25" y2="317.55" stroke="#f22" stroke-width="1.1"/><path d="M488.25 371.25V331.05H508.25V371.25" fill="none" stroke="#f22" stroke-width="1.3"/><path d="M519.25 371.25V370.65H539.25V371.25" fill="none" stroke="#f22" stroke-width="1.3"/><line x1="462.5" y1="370.7" x2="472.5" y2="370.7" stroke="#888" stroke-width="1.1"/><path d="M447.3 302.75V371.25H550" fill="none" stroke="#3a3a3a" stroke-width="1.1"/><line x1="444.3" y1="302.75" x2="447.3" y2="302.75" stroke="#3a3a3a" stroke-width="1.05"/><text class="t" x="443.7" y="305.15" font-size="5.40" font-weight="bold" text-anchor="end" fill="#1a1a1a">1×10<tspan dy="-1.9" font-size="3.6">5</tspan></text><line x1="444.3" y1="316.5" x2="447.3" y2="316.5" stroke="#3a3a3a" stroke-width="1.05"/><text class="t" x="443.7" y="318.9" font-size="5.40" font-weight="bold" text-anchor="end" fill="#1a1a1a">8×10<tspan dy="-1.9" font-size="3.6">4</tspan></text><line x1="444.3" y1="330.25" x2="447.3" y2="330.25" stroke="#3a3a3a" stroke-width="1.05"/><text class="t" x="443.7" y="332.65" font-size="5.40" font-weight="bold" text-anchor="end" fill="#1a1a1a">6×10<tspan dy="-1.9" font-size="3.6">4</tspan></text><line x1="444.3" y1="343.75" x2="447.3" y2="343.75" stroke="#3a3a3a" stroke-width="1.05"/><text class="t" x="443.7" y="346.15" font-size="5.40" font-weight="bold" text-anchor="end" fill="#1a1a1a">4×10<tspan dy="-1.9" font-size="3.6">4</tspan></text><line x1="444.3" y1="357.5" x2="447.3" y2="357.5" stroke="#3a3a3a" stroke-width="1.05"/><text class="t" x="443.7" y="359.9" font-size="5.40" font-weight="bold" text-anchor="end" fill="#1a1a1a">2×10<tspan dy="-1.9" font-size="3.6">4</tspan></text><line x1="444.3" y1="371.25" x2="447.3" y2="371.25" stroke="#3a3a3a" stroke-width="1.05"/><text class="t" x="442.90000000000003" y="373.65" font-size="5.40" font-weight="bold" text-anchor="end" fill="#1a1a1a">0</text><line x1="467.84000000000003" y1="371.25" x2="467.84000000000003" y2="373.75" stroke="#3a3a3a" stroke-width="1"/><text transform="translate(467.84000000000003 379.85) scale(1 1.12)" font-size="5.20" font-weight="bold" text-anchor="middle" fill="#1a1a1a">PBS</text><line x1="498.65" y1="371.25" x2="498.65" y2="373.75" stroke="#3a3a3a" stroke-width="1"/><text transform="translate(498.65 379.85) scale(1 1.12)" font-size="5.20" font-weight="bold" text-anchor="middle" fill="#1a1a1a">7</text><line x1="529.46" y1="371.25" x2="529.46" y2="373.75" stroke="#3a3a3a" stroke-width="1"/><text transform="translate(529.46 379.85) scale(1 1.12)" font-size="5.20" font-weight="bold" text-anchor="middle" fill="#1a1a1a">23</text><text class="d" transform="translate(498.65 388.25) scale(1 1.12)" font-size="5.75" font-weight="bold" text-anchor="middle" fill="#1a1a1a">Days post infection</text><text transform="translate(424.65 337.0) rotate(-90)" x="0" y="0" font-size="5.70" font-weight="bold" text-anchor="middle" fill="#1a1a1a">Cell number</text><path d="M466.25 309.9V316.1M466.25 313H497.35M497.35 309.9V316.1" fill="none" stroke="#1e1e1e" stroke-width="1.25"/><text x="482.25" y="312.3" font-size="5.3" font-weight="bold" text-anchor="middle" fill="#1a1a1a">**</text><path d="M499.15 309.9V316.1M499.15 313H530.75M530.75 309.9V316.1" fill="none" stroke="#1e1e1e" stroke-width="1.25"/><text x="514.5" y="312.3" font-size="5.3" font-weight="bold" text-anchor="middle" fill="#1a1a1a">**</text><text x="498.25" y="294.2" font-size="6.6" font-weight="bold" text-anchor="middle" fill="#1a1a1a">IFN-γ<tspan dy="-3.20" font-size="4.80">+</tspan><tspan dy="3.20"> </tspan>CD8<tspan dy="-3.20" font-size="4.80">+</tspan><tspan dy="3.20"> </tspan>T cells</text></g>
<g><line x1="602.5" y1="357.8" x2="602.5" y2="352.3" stroke="#222" stroke-width="0.9"/><line x1="597.5" y1="352.3" x2="607.5" y2="352.3" stroke="#222" stroke-width="1.1"/><path d="M592.5 371.25V357.8H612.5V371.25" fill="none" stroke="#222" stroke-width="1.3"/><line x1="633.0" y1="326.55" x2="633.0" y2="314.05" stroke="#f22" stroke-width="0.9"/><line x1="628.125" y1="314.05" x2="637.875" y2="314.05" stroke="#f22" stroke-width="1.1"/><path d="M623.25 371.25V326.55H642.75V371.25" fill="none" stroke="#f22" stroke-width="1.3"/><line x1="663.5" y1="360.05" x2="663.5" y2="353.8" stroke="#f22" stroke-width="0.9"/><line x1="658.625" y1="353.8" x2="668.375" y2="353.8" stroke="#f22" stroke-width="1.1"/><path d="M653.75 371.25V360.05H673.25V371.25" fill="none" stroke="#f22" stroke-width="1.3"/><path d="M582.4 302.75V371.25H683.5" fill="none" stroke="#3a3a3a" stroke-width="1.1"/><line x1="579.4" y1="302.75" x2="582.4" y2="302.75" stroke="#3a3a3a" stroke-width="1.05"/><text class="t" x="578.8" y="305.15" font-size="5.40" font-weight="bold" text-anchor="end" fill="#1a1a1a">8×10<tspan dy="-1.9" font-size="3.6">3</tspan></text><line x1="579.4" y1="320.25" x2="582.4" y2="320.25" stroke="#3a3a3a" stroke-width="1.05"/><text class="t" x="578.8" y="322.65" font-size="5.40" font-weight="bold" text-anchor="end" fill="#1a1a1a">6×10<tspan dy="-1.9" font-size="3.6">3</tspan></text><line x1="579.4" y1="337.25" x2="582.4" y2="337.25" stroke="#3a3a3a" stroke-width="1.05"/><text class="t" x="578.8" y="339.65" font-size="5.40" font-weight="bold" text-anchor="end" fill="#1a1a1a">4×10<tspan dy="-1.9" font-size="3.6">3</tspan></text><line x1="579.4" y1="354.5" x2="582.4" y2="354.5" stroke="#3a3a3a" stroke-width="1.05"/><text class="t" x="578.8" y="356.9" font-size="5.40" font-weight="bold" text-anchor="end" fill="#1a1a1a">2×10<tspan dy="-1.9" font-size="3.6">3</tspan></text><line x1="579.4" y1="371.25" x2="582.4" y2="371.25" stroke="#3a3a3a" stroke-width="1.05"/><text class="t" x="578.0" y="373.65" font-size="5.40" font-weight="bold" text-anchor="end" fill="#1a1a1a">0</text><line x1="602.62" y1="371.25" x2="602.62" y2="373.75" stroke="#3a3a3a" stroke-width="1"/><text transform="translate(602.62 379.85) scale(1 1.12)" font-size="5.20" font-weight="bold" text-anchor="middle" fill="#1a1a1a">PBS</text><line x1="632.95" y1="371.25" x2="632.95" y2="373.75" stroke="#3a3a3a" stroke-width="1"/><text transform="translate(632.95 379.85) scale(1 1.12)" font-size="5.20" font-weight="bold" text-anchor="middle" fill="#1a1a1a">7</text><line x1="663.28" y1="371.25" x2="663.28" y2="373.75" stroke="#3a3a3a" stroke-width="1"/><text transform="translate(663.28 379.85) scale(1 1.12)" font-size="5.20" font-weight="bold" text-anchor="middle" fill="#1a1a1a">23</text><text class="d" transform="translate(632.95 388.25) scale(1 1.12)" font-size="5.75" font-weight="bold" text-anchor="middle" fill="#1a1a1a">Days post infection</text><text transform="translate(560.15 337.0) rotate(-90)" x="0" y="0" font-size="5.70" font-weight="bold" text-anchor="middle" fill="#1a1a1a">Cell number</text><path d="M601.5 305.65V311.85M601.5 308.75H633.25M633.25 305.65V311.85" fill="none" stroke="#1e1e1e" stroke-width="1.25"/><text x="617.375" y="308.05" font-size="5.3" font-weight="bold" text-anchor="middle" fill="#1a1a1a">*</text><path d="M632.75 296.65V302.85M632.75 299.75H664.5M664.5 296.65V302.85" fill="none" stroke="#1e1e1e" stroke-width="1.25"/><text x="648.625" y="299.05" font-size="5.3" font-weight="bold" text-anchor="middle" fill="#1a1a1a">*</text><text x="632.9" y="295" font-size="6.5" font-weight="bold" text-anchor="middle" fill="#1a1a1a">TNF<tspan dy="-3.15" font-size="4.73">+</tspan><tspan dy="3.15"> </tspan>CD8<tspan dy="-3.15" font-size="4.73">+</tspan><tspan dy="3.15"> </tspan>T cells</text></g>
<g><line x1="51.375" y1="508.05" x2="51.375" y2="507.05" stroke="#222" stroke-width="0.9"/><line x1="46.3125" y1="507.05" x2="56.4375" y2="507.05" stroke="#222" stroke-width="1.1"/><path d="M41.25 508.75V508.05H61.5V508.75" fill="none" stroke="#222" stroke-width="1.3"/><line x1="82.75" y1="469.8" x2="82.75" y2="456.8" stroke="#f22" stroke-width="0.9"/><line x1="77.625" y1="456.8" x2="87.875" y2="456.8" stroke="#f22" stroke-width="1.1"/><path d="M72.5 508.75V469.8H93V508.75" fill="none" stroke="#f22" stroke-width="1.3"/><line x1="114.425" y1="482.55" x2="114.425" y2="478.8" stroke="#f22" stroke-width="0.9"/><line x1="109.3375" y1="478.8" x2="119.51249999999999" y2="478.8" stroke="#f22" stroke-width="1.1"/><path d="M104.25 508.75V482.55H124.6V508.75" fill="none" stroke="#f22" stroke-width="1.3"/><path d="M30.25 439.25V508.75H135.25" fill="none" stroke="#3a3a3a" stroke-width="1.1"/><line x1="27.25" y1="439.25" x2="30.25" y2="439.25" stroke="#3a3a3a" stroke-width="1.05"/><text class="t" x="26.65" y="441.65" font-size="5.40" font-weight="bold" text-anchor="end" fill="#1a1a1a">1.5×10<tspan dy="-1.9" font-size="3.6">7</tspan></text><line x1="27.25" y1="462.25" x2="30.25" y2="462.25" stroke="#3a3a3a" stroke-width="1.05"/><text class="t" x="26.65" y="464.65" font-size="5.40" font-weight="bold" text-anchor="end" fill="#1a1a1a">1×10<tspan dy="-1.9" font-size="3.6">7</tspan></text><line x1="27.25" y1="485.5" x2="30.25" y2="485.5" stroke="#3a3a3a" stroke-width="1.05"/><text class="t" x="26.65" y="487.9" font-size="5.40" font-weight="bold" text-anchor="end" fill="#1a1a1a">5×10<tspan dy="-1.9" font-size="3.6">6</tspan></text><line x1="27.25" y1="508.75" x2="30.25" y2="508.75" stroke="#3a3a3a" stroke-width="1.05"/><text class="t" x="25.85" y="511.15" font-size="5.40" font-weight="bold" text-anchor="end" fill="#1a1a1a">0</text><line x1="51.25" y1="508.75" x2="51.25" y2="511.25" stroke="#3a3a3a" stroke-width="1"/><text transform="translate(51.25 517.35) scale(1 1.12)" font-size="5.20" font-weight="bold" text-anchor="middle" fill="#1a1a1a">PBS</text><line x1="82.75" y1="508.75" x2="82.75" y2="511.25" stroke="#3a3a3a" stroke-width="1"/><text transform="translate(82.75 517.35) scale(1 1.12)" font-size="5.20" font-weight="bold" text-anchor="middle" fill="#1a1a1a">7</text><line x1="114.25" y1="508.75" x2="114.25" y2="511.25" stroke="#3a3a3a" stroke-width="1"/><text transform="translate(114.25 517.35) scale(1 1.12)" font-size="5.20" font-weight="bold" text-anchor="middle" fill="#1a1a1a">23</text><text class="d" transform="translate(82.75 525.75) scale(1 1.12)" font-size="5.75" font-weight="bold" text-anchor="middle" fill="#1a1a1a">Days post infection</text><text transform="translate(6.65 474.0) rotate(-90)" x="0" y="0" font-size="5.70" font-weight="bold" text-anchor="middle" fill="#1a1a1a">Cell number</text><path d="M50.75 448.15V454.35M50.75 451.25H83.25M83.25 448.15V454.35" fill="none" stroke="#1e1e1e" stroke-width="1.25"/><text x="67.0" y="450.55" font-size="5.3" font-weight="bold" text-anchor="middle" fill="#1a1a1a">**</text><text x="82.5" y="429.7" font-size="6.6" font-weight="bold" text-anchor="middle" fill="#1a1a1a">CD8<tspan dy="-3.20" font-size="4.80">+</tspan><tspan dy="3.20"> </tspan>T cells</text></g>
<g><line x1="221.875" y1="472.55" x2="221.875" y2="460.55" stroke="#f22" stroke-width="0.9"/><line x1="216.6875" y1="460.55" x2="227.0625" y2="460.55" stroke="#f22" stroke-width="1.1"/><path d="M211.5 508.75V472.55H232.25V508.75" fill="none" stroke="#f22" stroke-width="1.3"/><line x1="254.125" y1="485.8" x2="254.125" y2="482.55" stroke="#f22" stroke-width="0.9"/><line x1="249.0625" y1="482.55" x2="259.1875" y2="482.55" stroke="#f22" stroke-width="1.1"/><path d="M244 508.75V485.8H264.25V508.75" fill="none" stroke="#f22" stroke-width="1.3"/><line x1="185" y1="508.2" x2="195.5" y2="508.2" stroke="#555" stroke-width="1.1"/><path d="M169.25 438V508.75H274.25" fill="none" stroke="#3a3a3a" stroke-width="1.1"/><line x1="166.25" y1="438" x2="169.25" y2="438" stroke="#3a3a3a" stroke-width="1.05"/><text class="t" x="165.65" y="440.4" font-size="5.40" font-weight="bold" text-anchor="end" fill="#1a1a1a">1.5×10<tspan dy="-1.9" font-size="3.6">7</tspan></text><line x1="166.25" y1="461.75" x2="169.25" y2="461.75" stroke="#3a3a3a" stroke-width="1.05"/><text class="t" x="165.65" y="464.15" font-size="5.40" font-weight="bold" text-anchor="end" fill="#1a1a1a">1×10<tspan dy="-1.9" font-size="3.6">7</tspan></text><line x1="166.25" y1="485.25" x2="169.25" y2="485.25" stroke="#3a3a3a" stroke-width="1.05"/><text class="t" x="165.65" y="487.65" font-size="5.40" font-weight="bold" text-anchor="end" fill="#1a1a1a">5×10<tspan dy="-1.9" font-size="3.6">6</tspan></text><line x1="166.25" y1="508.75" x2="169.25" y2="508.75" stroke="#3a3a3a" stroke-width="1.05"/><text class="t" x="164.85" y="511.15" font-size="5.40" font-weight="bold" text-anchor="end" fill="#1a1a1a">0</text><line x1="190.25" y1="508.75" x2="190.25" y2="511.25" stroke="#3a3a3a" stroke-width="1"/><text transform="translate(190.25 517.35) scale(1 1.12)" font-size="5.20" font-weight="bold" text-anchor="middle" fill="#1a1a1a">PBS</text><line x1="221.75" y1="508.75" x2="221.75" y2="511.25" stroke="#3a3a3a" stroke-width="1"/><text transform="translate(221.75 517.35) scale(1 1.12)" font-size="5.20" font-weight="bold" text-anchor="middle" fill="#1a1a1a">7</text><line x1="253.25" y1="508.75" x2="253.25" y2="511.25" stroke="#3a3a3a" stroke-width="1"/><text transform="translate(253.25 517.35) scale(1 1.12)" font-size="5.20" font-weight="bold" text-anchor="middle" fill="#1a1a1a">23</text><text class="d" transform="translate(221.75 525.75) scale(1 1.12)" font-size="5.75" font-weight="bold" text-anchor="middle" fill="#1a1a1a">Days post infection</text><text transform="translate(145.4 473.375) rotate(-90)" x="0" y="0" font-size="5.70" font-weight="bold" text-anchor="middle" fill="#1a1a1a">Cell number</text><path d="M188.75 450.15V456.35M188.75 453.25H221.5M221.5 450.15V456.35" fill="none" stroke="#1e1e1e" stroke-width="1.25"/><text x="205.125" y="452.55" font-size="5.3" font-weight="bold" text-anchor="middle" fill="#1a1a1a">**</text><text x="222" y="429" font-size="6.6" font-weight="bold" text-anchor="middle" fill="#1a1a1a">CD44<tspan dy="-3.20" font-size="4.80">hi</tspan><tspan dy="3.20"> </tspan>CD62L<tspan dy="-3.20" font-size="4.80">lo</tspan><tspan dy="3.20"> </tspan>CD8<tspan dy="-3.20" font-size="4.80">+</tspan><tspan dy="3.20"> </tspan>T cells</text></g>
<g><path d="M316.5 508.75V508.15H335.75V508.75" fill="none" stroke="#222" stroke-width="1.3"/><line x1="356.5" y1="464.8" x2="356.5" y2="450.55" stroke="#f22" stroke-width="0.9"/><line x1="351.5" y1="450.55" x2="361.5" y2="450.55" stroke="#f22" stroke-width="1.1"/><path d="M346.5 508.75V464.8H366.5V508.75" fill="none" stroke="#f22" stroke-width="1.3"/><line x1="387.375" y1="483.55" x2="387.375" y2="480.3" stroke="#f22" stroke-width="0.9"/><line x1="382.4375" y1="480.3" x2="392.3125" y2="480.3" stroke="#f22" stroke-width="1.1"/><path d="M377.5 508.75V483.55H397.25V508.75" fill="none" stroke="#f22" stroke-width="1.3"/><path d="M305.75 441.5V508.75H407.5" fill="none" stroke="#8a8a8a" stroke-width="1.1"/><line x1="302.75" y1="441.5" x2="305.75" y2="441.5" stroke="#8a8a8a" stroke-width="1.05"/><text class="t" x="302.15" y="443.9" font-size="5.40" font-weight="normal" text-anchor="end" fill="#1a1a1a">6×10<tspan dy="-1.9" font-size="3.6">4</tspan></text><line x1="302.75" y1="463.75" x2="305.75" y2="463.75" stroke="#8a8a8a" stroke-width="1.05"/><text class="t" x="302.15" y="466.15" font-size="5.40" font-weight="normal" text-anchor="end" fill="#1a1a1a">4×10<tspan dy="-1.9" font-size="3.6">4</tspan></text><line x1="302.75" y1="486.25" x2="305.75" y2="486.25" stroke="#8a8a8a" stroke-width="1.05"/><text class="t" x="302.15" y="488.65" font-size="5.40" font-weight="normal" text-anchor="end" fill="#1a1a1a">2×10<tspan dy="-1.9" font-size="3.6">4</tspan></text><line x1="302.75" y1="508.75" x2="305.75" y2="508.75" stroke="#8a8a8a" stroke-width="1.05"/><text class="t" x="301.35" y="511.15" font-size="5.40" font-weight="normal" text-anchor="end" fill="#1a1a1a">0</text><line x1="326.1" y1="508.75" x2="326.1" y2="511.25" stroke="#8a8a8a" stroke-width="1"/><text transform="translate(326.1 517.35) scale(1 1.12)" font-size="5.20" font-weight="bold" text-anchor="middle" fill="#1a1a1a">PBS</text><line x1="356.625" y1="508.75" x2="356.625" y2="511.25" stroke="#8a8a8a" stroke-width="1"/><text transform="translate(356.625 517.35) scale(1 1.12)" font-size="5.20" font-weight="bold" text-anchor="middle" fill="#1a1a1a">7</text><line x1="387.15" y1="508.75" x2="387.15" y2="511.25" stroke="#8a8a8a" stroke-width="1"/><text transform="translate(387.15 517.35) scale(1 1.12)" font-size="5.20" font-weight="bold" text-anchor="middle" fill="#1a1a1a">23</text><text class="d" transform="translate(356.625 525.75) scale(1 1.12)" font-size="5.75" font-weight="bold" text-anchor="middle" fill="#1a1a1a">Days post infection</text><text transform="translate(283.4 475.125) rotate(-90)" x="0" y="0" font-size="5.70" font-weight="bold" text-anchor="middle" fill="#1a1a1a">Cell number</text><path d="M326 442.9V449.1M326 446H357.5M357.5 442.9V449.1" fill="none" stroke="#555" stroke-width="1.25"/><text x="341.75" y="445.3" font-size="5.3" font-weight="bold" text-anchor="middle" fill="#1a1a1a">**</text><text x="356.25" y="432.2" font-size="6.6" font-weight="bold" text-anchor="middle" fill="#1a1a1a">CXCR3<tspan dy="-3.20" font-size="4.80">+</tspan><tspan dy="3.20"> </tspan>CD8<tspan dy="-3.20" font-size="4.80">+</tspan><tspan dy="3.20"> </tspan>T cells</text></g>
<g><line x1="498.25" y1="493.55" x2="498.25" y2="486.55" stroke="#f22" stroke-width="0.9"/><line x1="493.25" y1="486.55" x2="503.25" y2="486.55" stroke="#f22" stroke-width="1.1"/><path d="M488.25 508.75V493.55H508.25V508.75" fill="none" stroke="#f22" stroke-width="1.3"/><line x1="528.875" y1="465.8" x2="528.875" y2="455.55" stroke="#f22" stroke-width="0.9"/><line x1="523.9375" y1="455.55" x2="533.8125" y2="455.55" stroke="#f22" stroke-width="1.1"/><path d="M519 508.75V465.8H538.75V508.75" fill="none" stroke="#f22" stroke-width="1.3"/><line x1="462.5" y1="508.2" x2="472.5" y2="508.2" stroke="#555" stroke-width="1.1"/><path d="M447.3 441V508.75H550" fill="none" stroke="#3a3a3a" stroke-width="1.1"/><line x1="444.3" y1="441" x2="447.3" y2="441" stroke="#3a3a3a" stroke-width="1.05"/><text class="t" x="443.7" y="443.4" font-size="5.40" font-weight="bold" text-anchor="end" fill="#1a1a1a">8×10<tspan dy="-1.9" font-size="3.6">5</tspan></text><line x1="444.3" y1="457.75" x2="447.3" y2="457.75" stroke="#3a3a3a" stroke-width="1.05"/><text class="t" x="443.7" y="460.15" font-size="5.40" font-weight="bold" text-anchor="end" fill="#1a1a1a">6×10<tspan dy="-1.9" font-size="3.6">5</tspan></text><line x1="444.3" y1="474.75" x2="447.3" y2="474.75" stroke="#3a3a3a" stroke-width="1.05"/><text class="t" x="443.7" y="477.15" font-size="5.40" font-weight="bold" text-anchor="end" fill="#1a1a1a">4×10<tspan dy="-1.9" font-size="3.6">5</tspan></text><line x1="444.3" y1="491.75" x2="447.3" y2="491.75" stroke="#3a3a3a" stroke-width="1.05"/><text class="t" x="443.7" y="494.15" font-size="5.40" font-weight="bold" text-anchor="end" fill="#1a1a1a">2×10<tspan dy="-1.9" font-size="3.6">5</tspan></text><line x1="444.3" y1="508.75" x2="447.3" y2="508.75" stroke="#3a3a3a" stroke-width="1.05"/><text class="t" x="442.90000000000003" y="511.15" font-size="5.40" font-weight="bold" text-anchor="end" fill="#1a1a1a">0</text><line x1="467.84000000000003" y1="508.75" x2="467.84000000000003" y2="511.25" stroke="#3a3a3a" stroke-width="1"/><text transform="translate(467.84000000000003 517.35) scale(1 1.12)" font-size="5.20" font-weight="bold" text-anchor="middle" fill="#1a1a1a">PBS</text><line x1="498.65" y1="508.75" x2="498.65" y2="511.25" stroke="#3a3a3a" stroke-width="1"/><text transform="translate(498.65 517.35) scale(1 1.12)" font-size="5.20" font-weight="bold" text-anchor="middle" fill="#1a1a1a">7</text><line x1="529.46" y1="508.75" x2="529.46" y2="511.25" stroke="#3a3a3a" stroke-width="1"/><text transform="translate(529.46 517.35) scale(1 1.12)" font-size="5.20" font-weight="bold" text-anchor="middle" fill="#1a1a1a">23</text><text class="d" transform="translate(498.65 525.75) scale(1 1.12)" font-size="5.75" font-weight="bold" text-anchor="middle" fill="#1a1a1a">Days post infection</text><text transform="translate(424.65 474.875) rotate(-90)" x="0" y="0" font-size="5.70" font-weight="bold" text-anchor="middle" fill="#1a1a1a">Cell number</text><path d="M468 438.65V444.85M468 441.75H530M530 438.65V444.85" fill="none" stroke="#1e1e1e" stroke-width="1.25"/><text x="499.0" y="441.05" font-size="5.3" font-weight="bold" text-anchor="middle" fill="#1a1a1a">**</text><path d="M498.25 447.4V453.6M498.25 450.5H530M530 447.4V453.6" fill="none" stroke="#1e1e1e" stroke-width="1.25"/><text x="514.125" y="449.8" font-size="5.3" font-weight="bold" text-anchor="middle" fill="#1a1a1a">*</text><text x="498.25" y="431.7" font-size="6.6" font-weight="bold" text-anchor="middle" fill="#1a1a1a">IFN-γ<tspan dy="-3.20" font-size="4.80">+</tspan><tspan dy="3.20"> </tspan>CD8<tspan dy="-3.20" font-size="4.80">+</tspan><tspan dy="3.20"> </tspan>T cells</text></g>
<g><path d="M592.5 508.75V508.15H612.5V508.75" fill="none" stroke="#222" stroke-width="1.3"/><line x1="633.0" y1="496.05" x2="633.0" y2="493.3" stroke="#f22" stroke-width="0.9"/><line x1="628.125" y1="493.3" x2="637.875" y2="493.3" stroke="#f22" stroke-width="1.1"/><path d="M623.25 508.75V496.05H642.75V508.75" fill="none" stroke="#f22" stroke-width="1.3"/><line x1="663.5" y1="462.05" x2="663.5" y2="451.3" stroke="#f22" stroke-width="0.9"/><line x1="658.625" y1="451.3" x2="668.375" y2="451.3" stroke="#f22" stroke-width="1.1"/><path d="M653.75 508.75V462.05H673.25V508.75" fill="none" stroke="#f22" stroke-width="1.3"/><path d="M582.4 441.5V508.75H683.5" fill="none" stroke="#3a3a3a" stroke-width="1.1"/><line x1="579.4" y1="441.5" x2="582.4" y2="441.5" stroke="#3a3a3a" stroke-width="1.05"/><text class="t" x="578.8" y="443.9" font-size="5.40" font-weight="bold" text-anchor="end" fill="#1a1a1a">1×10<tspan dy="-1.9" font-size="3.6">5</tspan></text><line x1="579.4" y1="455" x2="582.4" y2="455" stroke="#3a3a3a" stroke-width="1.05"/><text class="t" x="578.8" y="457.4" font-size="5.40" font-weight="bold" text-anchor="end" fill="#1a1a1a">8×10<tspan dy="-1.9" font-size="3.6">4</tspan></text><line x1="579.4" y1="468.5" x2="582.4" y2="468.5" stroke="#3a3a3a" stroke-width="1.05"/><text class="t" x="578.8" y="470.9" font-size="5.40" font-weight="bold" text-anchor="end" fill="#1a1a1a">6×10<tspan dy="-1.9" font-size="3.6">4</tspan></text><line x1="579.4" y1="482" x2="582.4" y2="482" stroke="#3a3a3a" stroke-width="1.05"/><text class="t" x="578.8" y="484.4" font-size="5.40" font-weight="bold" text-anchor="end" fill="#1a1a1a">4×10<tspan dy="-1.9" font-size="3.6">4</tspan></text><line x1="579.4" y1="495.25" x2="582.4" y2="495.25" stroke="#3a3a3a" stroke-width="1.05"/><text class="t" x="578.8" y="497.65" font-size="5.40" font-weight="bold" text-anchor="end" fill="#1a1a1a">2×10<tspan dy="-1.9" font-size="3.6">4</tspan></text><line x1="579.4" y1="508.75" x2="582.4" y2="508.75" stroke="#3a3a3a" stroke-width="1.05"/><text class="t" x="578.0" y="511.15" font-size="5.40" font-weight="bold" text-anchor="end" fill="#1a1a1a">0</text><line x1="602.62" y1="508.75" x2="602.62" y2="511.25" stroke="#3a3a3a" stroke-width="1"/><text transform="translate(602.62 517.35) scale(1 1.12)" font-size="5.20" font-weight="bold" text-anchor="middle" fill="#1a1a1a">PBS</text><line x1="632.95" y1="508.75" x2="632.95" y2="511.25" stroke="#3a3a3a" stroke-width="1"/><text transform="translate(632.95 517.35) scale(1 1.12)" font-size="5.20" font-weight="bold" text-anchor="middle" fill="#1a1a1a">7</text><line x1="663.28" y1="508.75" x2="663.28" y2="511.25" stroke="#3a3a3a" stroke-width="1"/><text transform="translate(663.28 517.35) scale(1 1.12)" font-size="5.20" font-weight="bold" text-anchor="middle" fill="#1a1a1a">23</text><text class="d" transform="translate(632.95 525.75) scale(1 1.12)" font-size="5.75" font-weight="bold" text-anchor="middle" fill="#1a1a1a">Days post infection</text><text transform="translate(560.15 475.125) rotate(-90)" x="0" y="0" font-size="5.70" font-weight="bold" text-anchor="middle" fill="#1a1a1a">Cell number</text><path d="M602 436.65V442.85M602 439.75H663.25M663.25 436.65V442.85" fill="none" stroke="#1e1e1e" stroke-width="1.25"/><text x="632.625" y="439.05" font-size="5.3" font-weight="bold" text-anchor="middle" fill="#1a1a1a">***</text><path d="M632.25 443.9V450.1M632.25 447H663.25M663.25 443.9V450.1" fill="none" stroke="#1e1e1e" stroke-width="1.25"/><text x="647.75" y="446.3" font-size="5.3" font-weight="bold" text-anchor="middle" fill="#1a1a1a">**</text><text x="632.9" y="432.7" font-size="6.5" font-weight="bold" text-anchor="middle" fill="#1a1a1a">TNF<tspan dy="-3.15" font-size="4.73">+</tspan><tspan dy="3.15"> </tspan>CD8<tspan dy="-3.15" font-size="4.73">+</tspan><tspan dy="3.15"> </tspan>T cells</text></g>
</g>
</svg>
</body></html>
